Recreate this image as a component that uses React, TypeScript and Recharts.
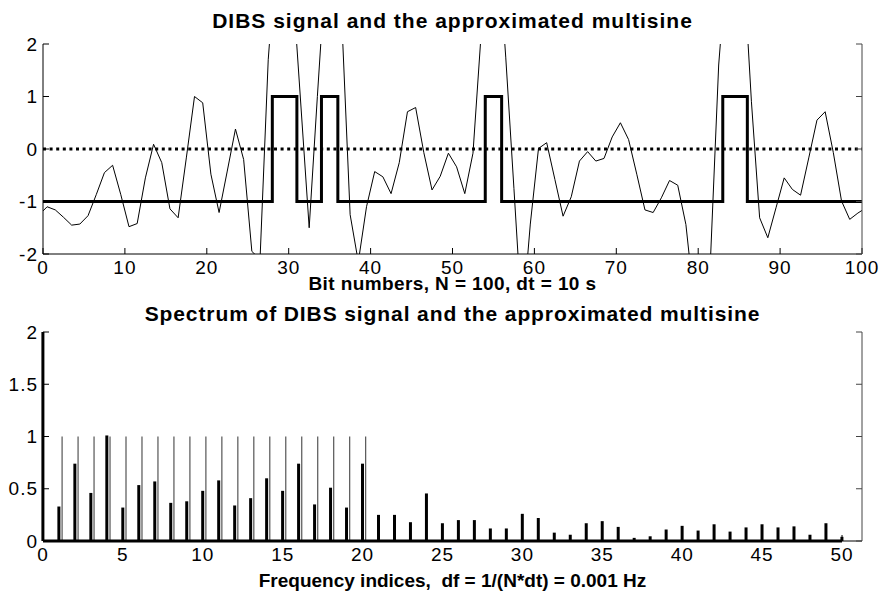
import React from 'react';
import { ComposedChart, Line, Bar, XAxis, YAxis, ReferenceLine } from 'recharts';

// ---- Top panel data ----
// Multisine samples at bit centres (k + 0.5), k = 0..99
const multisineValues = [
  -1.10, -1.16, -1.30, -1.45, -1.43, -1.27, -0.87, -0.45, -0.31, -0.87,
  -1.48, -1.42, -0.55, 0.09, -0.26, -1.14, -1.31, -0.17, 1.00, 0.88,
  -0.48, -1.21, -0.42, 0.38, -0.20, -1.95, -2.10, 1.70, 3.80, 4.20,
  3.10, 0.80, -1.50, 1.00, 3.40, 3.60, 2.40, -1.25, -2.15, -1.10,
  -0.43, -0.53, -0.85, -0.26, 0.71, 0.79, -0.07, -0.78, -0.52, -0.08,
  -0.34, -0.85, -0.08, 2.20, 4.00, 4.00, 1.75, -0.75, -3.30, -1.43,
  0.01, 0.12, -0.58, -1.28, -0.91, -0.23, -0.05, -0.23, -0.18, 0.23,
  0.50, 0.18, -0.48, -1.16, -1.21, -0.93, -0.60, -0.69, -1.44, -2.90,
  -3.20, -2.10, 1.60, 3.60, 4.20, 3.60, 0.90, -1.31, -1.69, -1.12,
  -0.55, -0.77, -0.88, -0.17, 0.55, 0.71, -0.07, -0.99, -1.34, -1.22,
];
const multisineStart = -1.18;
const multisineEnd = -1.17;
const dibsSwitchBits = [0, 28, 31, 34, 36, 54, 56, 83, 86, 100];
const dibsLevels = [-1, 1, -1, 1, -1, 1, -1, 1, -1, -1];
const bitTicks = [0, 10, 20, 30, 40, 50, 60, 70, 80, 90, 100];
const ampTicks = [-2, -1, 0, 1, 2];

// ---- Bottom panel data ----
const dibsSpectrum = [
  2.0, 0.33, 0.74, 0.46, 1.01, 0.32, 0.535, 0.57, 0.365, 0.38,
  0.48, 0.58, 0.34, 0.41, 0.60, 0.48, 0.74, 0.35, 0.51, 0.32,
  0.74, 0.25, 0.25, 0.18, 0.455, 0.17, 0.20, 0.20, 0.12, 0.12,
  0.26, 0.22, 0.08, 0.06, 0.17, 0.19, 0.135, 0.03, 0.045, 0.11,
  0.145, 0.10, 0.16, 0.09, 0.13, 0.16, 0.13, 0.14, 0.06, 0.17,
  0.04,
];
const multisineSpectrum = [1, 1, 1, 1, 1, 1, 1, 1, 1, 1, 1, 1, 1, 1, 1, 1, 1, 1, 1, 1];
const multisineFreqShift = 0.2;
const freqTicks = [0, 5, 10, 15, 20, 25, 30, 35, 40, 45, 50];
const magTicks = [0, 0.5, 1, 1.5, 2];

const multisineData = [
  { t: 0, v: multisineStart },
  ...multisineValues.map((v, i) => ({ t: i + 0.5, v })),
  { t: 100, v: multisineEnd },
];
const dibsData = dibsSwitchBits.map((t, i) => ({ t, v: dibsLevels[i] }));

const spectrumRows = [
  ...dibsSpectrum.map((h, k) => ({ f: k, dibs: h })),
  ...multisineSpectrum.map((h, i) => ({ f: i + 1 + multisineFreqShift, ms: h })),
];

const FONT = 'Liberation Sans, Arial, Helvetica, sans-serif';
const tickStyle = { fontSize: 19, fill: '#000', fontFamily: FONT, letterSpacing: 1 };
const AX = '#000';

const textBase: React.CSSProperties = {
  position: 'absolute',
  left: 43,
  width: 819,
  textAlign: 'center',
  fontFamily: FONT,
  fontWeight: 'bold',
  color: '#000',
  whiteSpace: 'nowrap',
};

export default function App() {
  return (
    <div style={{ position: 'absolute', left: 0, top: 0, width: 880, height: 595, background: '#fff', overflow: 'hidden' }}>
      <div style={{ ...textBase, top: 10, fontSize: 21, lineHeight: '21px', letterSpacing: 1 }}>
        DIBS signal and the approximated multisine
      </div>
      <div style={{ ...textBase, top: 274, fontSize: 19, lineHeight: '19px', letterSpacing: 0.4 }}>
        Bit numbers, N = 100, dt = 10 s
      </div>
      <div style={{ ...textBase, top: 303, fontSize: 21, lineHeight: '21px', letterSpacing: 0.9 }}>
        Spectrum of DIBS signal and the approximated multisine
      </div>
      <div style={{ ...textBase, top: 571, fontSize: 19, lineHeight: '19px' }}>
        Frequency indices,&nbsp; df = 1/(N*dt) = 0.001 Hz
      </div>

      <div style={{ position: 'absolute', left: 0, top: 0 }}>
        <ComposedChart width={880} height={300} margin={{ top: 44, right: 0, bottom: 0, left: 0 }}>
          <XAxis xAxisId="b" type="number" dataKey="t" domain={[0, 100]} ticks={bitTicks} interval={0}
            allowDataOverflow height={46} tickSize={-6} tickMargin={13} tick={tickStyle} stroke={AX} />
          <XAxis xAxisId="top" orientation="top" type="number" dataKey="t" domain={[0, 100]} ticks={bitTicks}
            interval={0} allowDataOverflow height={0} tickSize={-6} tickFormatter={() => ''} stroke="#777" />
          <YAxis yAxisId="l" type="number" domain={[-2, 2]} ticks={ampTicks} interval={0} allowDataOverflow
            width={43} tickSize={-6} tickMargin={11} tick={tickStyle} stroke={AX} />
          <YAxis yAxisId="r" orientation="right" type="number" domain={[-2, 2]} ticks={ampTicks} interval={0}
            allowDataOverflow width={18} tickSize={-6} tickFormatter={() => ''} stroke="#444" />
          <ReferenceLine xAxisId="b" yAxisId="l" y={0} stroke="#000" strokeWidth={3} strokeDasharray="3 3.6" />
          <Line xAxisId="b" yAxisId="l" data={multisineData} dataKey="v" type="linear" stroke="#000"
            strokeWidth={1} dot={false} activeDot={false} isAnimationActive={false} />
          <Line xAxisId="b" yAxisId="l" data={dibsData} dataKey="v" type="stepAfter" stroke="#000"
            strokeWidth={3} dot={false} activeDot={false} isAnimationActive={false} />
        </ComposedChart>
      </div>

      <div style={{ position: 'absolute', left: 0, top: 290 }}>
        <ComposedChart width={880} height={305} data={spectrumRows} margin={{ top: 42, right: 0, bottom: 0, left: 0 }}>
          <XAxis xAxisId="main" type="number" dataKey="f" domain={[0, 51.25]} ticks={freqTicks} interval={0}
            height={54} tickSize={-6} tickMargin={13} tick={tickStyle} stroke={AX} />
          <XAxis xAxisId="thin" type="number" dataKey="f" domain={[0, 51.25]} hide />
          <XAxis xAxisId="top" orientation="top" type="number" dataKey="f" domain={[0, 51.25]} ticks={freqTicks}
            interval={0} allowDataOverflow height={0} tickSize={-6} tickFormatter={() => ''} stroke={AX} />
          <YAxis yAxisId="l" type="number" domain={[0, 2]} ticks={magTicks} interval={0}
            width={43} tickSize={-6} tickMargin={11} tick={tickStyle} stroke={AX} />
          <YAxis yAxisId="r" orientation="right" type="number" domain={[0, 2]} ticks={magTicks} interval={0}
            allowDataOverflow width={18} tickSize={-6} tickFormatter={() => ''} stroke="#444" />
          <Bar xAxisId="thin" yAxisId="l" dataKey="ms" barSize={1} fill="#333" isAnimationActive={false} />
          <Bar xAxisId="main" yAxisId="l" dataKey="dibs" barSize={3} fill="#000" isAnimationActive={false} />
          <ReferenceLine xAxisId="main" yAxisId="l" segment={[{ x: 0, y: 0 }, { x: 50, y: 0 }]} stroke="#000" strokeWidth={3} />
        </ComposedChart>
      </div>
    </div>
  );
}
